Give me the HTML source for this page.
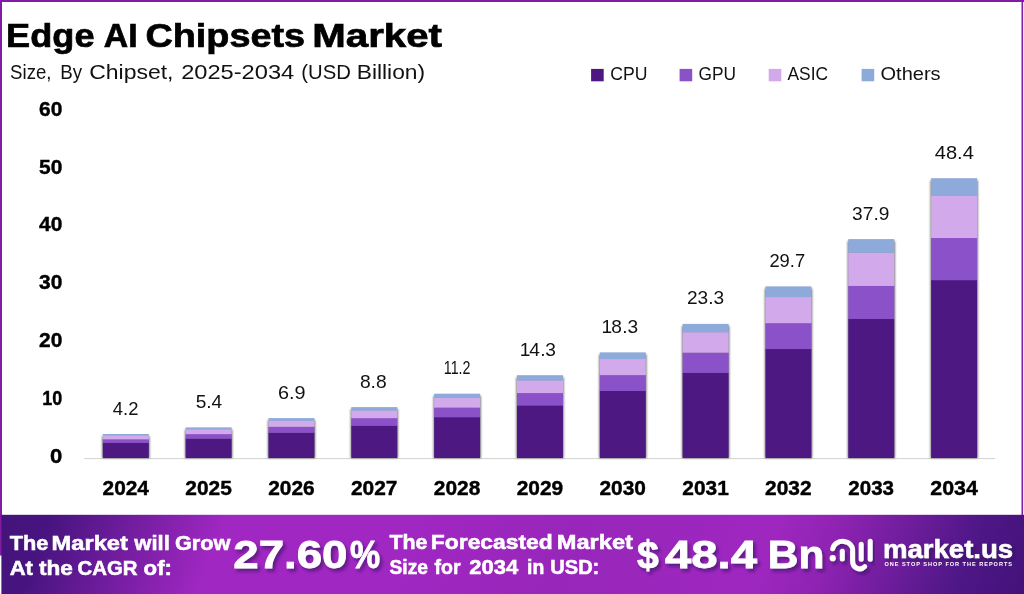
<!DOCTYPE html>
<html lang="en">
<head>
<meta charset="utf-8">
<title>Edge AI Chipsets Market</title>
<style>
html,body{margin:0;padding:0;background:#fff;}
body{width:1024px;height:594px;overflow:hidden;position:relative;font-family:"Liberation Sans",Arial,sans-serif;}
svg{position:absolute;left:0;top:0;display:block;}
text{font-family:"Liberation Sans",Arial,sans-serif;}
.b{font-weight:700;}
</style>
</head>
<body>
<svg width="1024" height="594" viewBox="0 0 1024 594">
<defs>
<linearGradient id="bg" gradientUnits="userSpaceOnUse" x1="0" y1="0" x2="1056" y2="0" gradientTransform="matrix(1 0 -0.4 1 206 0)">
<stop offset="0" stop-color="#43137a"/>
<stop offset="0.05" stop-color="#47147f"/>
<stop offset="0.215" stop-color="#a027c2"/>
<stop offset="0.40" stop-color="#a027c2"/>
<stop offset="0.55" stop-color="#9826ba"/>
<stop offset="0.74" stop-color="#9e27c0"/>
<stop offset="0.80" stop-color="#8e23b2"/>
<stop offset="0.93" stop-color="#4f1787"/>
<stop offset="1" stop-color="#421278"/>
</linearGradient>
<filter id="sh" x="-20%" y="-20%" width="140%" height="150%">
<feGaussianBlur stdDeviation="1.0"/>
</filter>
<filter id="ts" x="-10%" y="-10%" width="120%" height="140%">
<feDropShadow dx="2.4" dy="3" stdDeviation="1.7" flood-color="#35095f" flood-opacity="0.6"/>
</filter>
</defs>
<rect x="0" y="0" width="1024" height="594" fill="#ffffff"/>
<!-- frame -->
<rect x="0" y="0" width="1024" height="2" fill="#831ca5"/>
<rect x="0" y="0" width="2" height="515" fill="#831ca5"/>
<rect x="1021.5" y="0" width="1.6" height="594" fill="#831ca5"/>

<text class="b" y="47.10" font-size="33.4" fill="#000" stroke="#000" stroke-width="0.7"><tspan x="6.13" textLength="88.38" lengthAdjust="spacingAndGlyphs">Edge</tspan> <tspan x="103.80" textLength="33.79" lengthAdjust="spacingAndGlyphs">AI</tspan> <tspan x="145.47" textLength="159.58" lengthAdjust="spacingAndGlyphs">Chipsets</tspan> <tspan x="312.29" textLength="129.75" lengthAdjust="spacingAndGlyphs">Market</tspan></text>
<text y="79.20" font-size="20.6" fill="#111"><tspan x="10.10" textLength="41.36" lengthAdjust="spacingAndGlyphs">Size,</tspan> <tspan x="60.19" textLength="21.87" lengthAdjust="spacingAndGlyphs">By</tspan> <tspan x="89.18" textLength="84.34" lengthAdjust="spacingAndGlyphs">Chipset,</tspan> <tspan x="181.15" textLength="113.07" lengthAdjust="spacingAndGlyphs">2025-2034</tspan> <tspan x="301.32" textLength="49.54" lengthAdjust="spacingAndGlyphs">(USD</tspan> <tspan x="356.69" textLength="68.46" lengthAdjust="spacingAndGlyphs">Billion)</tspan></text>
<rect x="591.1" y="68.9" width="12.6" height="12.4" fill="#4d1882"/>
<text x="610.30" y="79.70" font-size="18.2" textLength="37.20" lengthAdjust="spacingAndGlyphs" fill="#111">CPU</text>
<rect x="679.6" y="68.9" width="12.6" height="12.4" fill="#8b51c9"/>
<text x="698.50" y="79.70" font-size="18.2" textLength="37.48" lengthAdjust="spacingAndGlyphs" fill="#111">GPU</text>
<rect x="768.7" y="68.9" width="12.6" height="12.4" fill="#d2a9ea"/>
<text x="787.50" y="79.70" font-size="18.2" textLength="40.63" lengthAdjust="spacingAndGlyphs" fill="#111">ASIC</text>
<rect x="861.6" y="68.9" width="12.6" height="12.4" fill="#8eaadb"/>
<text x="880.50" y="79.70" font-size="18.2" textLength="60.10" lengthAdjust="spacingAndGlyphs" fill="#111">Others</text>
<text class="b" x="50.00" y="463.20" font-size="19.6" textLength="12.28" lengthAdjust="spacingAndGlyphs" fill="#000" stroke="#000" stroke-width="0.4">0</text>
<text class="b" x="42.28" y="405.27" font-size="19.6" textLength="20.02" lengthAdjust="spacingAndGlyphs" fill="#000" stroke="#000" stroke-width="0.4">10</text>
<text class="b" x="39.00" y="347.34" font-size="19.6" textLength="23.29" lengthAdjust="spacingAndGlyphs" fill="#000" stroke="#000" stroke-width="0.4">20</text>
<text class="b" x="39.00" y="289.41" font-size="19.6" textLength="23.29" lengthAdjust="spacingAndGlyphs" fill="#000" stroke="#000" stroke-width="0.4">30</text>
<text class="b" x="39.00" y="231.48" font-size="19.6" textLength="23.29" lengthAdjust="spacingAndGlyphs" fill="#000" stroke="#000" stroke-width="0.4">40</text>
<text class="b" x="39.00" y="173.55" font-size="19.6" textLength="23.29" lengthAdjust="spacingAndGlyphs" fill="#000" stroke="#000" stroke-width="0.4">50</text>
<text class="b" x="39.00" y="115.62" font-size="19.6" textLength="23.29" lengthAdjust="spacingAndGlyphs" fill="#000" stroke="#000" stroke-width="0.4">60</text>
<rect x="84.4" y="458" width="910.6" height="1.1" fill="#d6d6d6"/>
<rect x="102.20" y="436.00" width="47.30" height="22.10" fill="#000" opacity="0.55" filter="url(#sh)"/>
<rect x="102.80" y="442.63" width="46.00" height="15.37" fill="#4d1882"/>
<rect x="102.80" y="439.05" width="46.00" height="3.88" fill="#8b51c9"/>
<rect x="102.80" y="435.45" width="46.00" height="3.90" fill="#d2a9ea"/>
<rect x="102.80" y="434.00" width="46.00" height="1.75" fill="#8eaadb"/>
<text x="112.80" y="414.50" font-size="17.9" textLength="25.65" lengthAdjust="spacingAndGlyphs" fill="#111">4.2</text>
<text class="b" x="102.55" y="494.50" font-size="19.6" textLength="46.39" lengthAdjust="spacingAndGlyphs" fill="#000" stroke="#000" stroke-width="0.4">2024</text>
<rect x="185.03" y="429.40" width="47.30" height="28.70" fill="#000" opacity="0.55" filter="url(#sh)"/>
<rect x="185.63" y="438.43" width="46.00" height="19.57" fill="#4d1882"/>
<rect x="185.63" y="433.85" width="46.00" height="4.88" fill="#8b51c9"/>
<rect x="185.63" y="429.25" width="46.00" height="4.91" fill="#d2a9ea"/>
<rect x="185.63" y="427.40" width="46.00" height="2.15" fill="#8eaadb"/>
<text x="195.70" y="407.90" font-size="17.9" textLength="26.55" lengthAdjust="spacingAndGlyphs" fill="#111">5.4</text>
<text class="b" x="185.33" y="494.50" font-size="19.6" textLength="46.49" lengthAdjust="spacingAndGlyphs" fill="#000" stroke="#000" stroke-width="0.4">2025</text>
<rect x="267.86" y="420.10" width="47.30" height="38.00" fill="#000" opacity="0.55" filter="url(#sh)"/>
<rect x="268.46" y="432.51" width="46.00" height="25.49" fill="#4d1882"/>
<rect x="268.46" y="426.53" width="46.00" height="6.28" fill="#8b51c9"/>
<rect x="268.46" y="420.52" width="46.00" height="6.32" fill="#d2a9ea"/>
<rect x="268.46" y="418.10" width="46.00" height="2.72" fill="#8eaadb"/>
<text x="278.10" y="398.60" font-size="17.9" textLength="27.54" lengthAdjust="spacingAndGlyphs" fill="#111">6.9</text>
<text class="b" x="268.16" y="494.50" font-size="19.6" textLength="46.49" lengthAdjust="spacingAndGlyphs" fill="#000" stroke="#000" stroke-width="0.4">2026</text>
<rect x="350.69" y="409.10" width="47.30" height="49.00" fill="#000" opacity="0.55" filter="url(#sh)"/>
<rect x="351.29" y="425.52" width="46.00" height="32.48" fill="#4d1882"/>
<rect x="351.29" y="417.88" width="46.00" height="7.94" fill="#8b51c9"/>
<rect x="351.29" y="410.19" width="46.00" height="7.99" fill="#d2a9ea"/>
<rect x="351.29" y="407.10" width="46.00" height="3.39" fill="#8eaadb"/>
<text x="359.90" y="387.60" font-size="17.9" textLength="26.75" lengthAdjust="spacingAndGlyphs" fill="#111">8.8</text>
<text class="b" x="350.99" y="494.50" font-size="19.6" textLength="46.49" lengthAdjust="spacingAndGlyphs" fill="#000" stroke="#000" stroke-width="0.4">2027</text>
<rect x="433.52" y="395.70" width="47.30" height="62.40" fill="#000" opacity="0.55" filter="url(#sh)"/>
<rect x="434.12" y="417.00" width="46.00" height="41.00" fill="#4d1882"/>
<rect x="434.12" y="407.33" width="46.00" height="9.96" fill="#8b51c9"/>
<rect x="434.12" y="397.60" width="46.00" height="10.03" fill="#d2a9ea"/>
<rect x="434.12" y="393.70" width="46.00" height="4.20" fill="#8eaadb"/>
<text x="443.80" y="374.20" font-size="17.9" textLength="26.66" lengthAdjust="spacingAndGlyphs" fill="#111">11.2</text>
<text class="b" x="433.82" y="494.50" font-size="19.6" textLength="46.49" lengthAdjust="spacingAndGlyphs" fill="#000" stroke="#000" stroke-width="0.4">2028</text>
<rect x="516.35" y="377.20" width="47.30" height="80.90" fill="#000" opacity="0.55" filter="url(#sh)"/>
<rect x="516.95" y="405.23" width="46.00" height="52.77" fill="#4d1882"/>
<rect x="516.95" y="392.77" width="46.00" height="12.76" fill="#8b51c9"/>
<rect x="516.95" y="380.23" width="46.00" height="12.84" fill="#d2a9ea"/>
<rect x="516.95" y="375.20" width="46.00" height="5.33" fill="#8eaadb"/>
<text transform="scale(1.07 1)" x="485.86 494.53 504.93 509.63" y="355.70" font-size="17.9" fill="#111">14.3</text>
<text class="b" x="516.65" y="494.50" font-size="19.6" textLength="46.49" lengthAdjust="spacingAndGlyphs" fill="#000" stroke="#000" stroke-width="0.4">2029</text>
<rect x="599.18" y="354.40" width="47.30" height="103.70" fill="#000" opacity="0.55" filter="url(#sh)"/>
<rect x="599.78" y="390.73" width="46.00" height="67.27" fill="#4d1882"/>
<rect x="599.78" y="374.83" width="46.00" height="16.20" fill="#8b51c9"/>
<rect x="599.78" y="358.82" width="46.00" height="16.31" fill="#d2a9ea"/>
<rect x="599.78" y="352.40" width="46.00" height="6.72" fill="#8eaadb"/>
<text transform="scale(1.07 1)" x="562.16 571.17 581.61 586.40" y="332.90" font-size="17.9" fill="#111">18.3</text>
<text class="b" x="599.48" y="494.50" font-size="19.6" textLength="46.49" lengthAdjust="spacingAndGlyphs" fill="#000" stroke="#000" stroke-width="0.4">2030</text>
<rect x="682.01" y="325.90" width="47.30" height="132.20" fill="#000" opacity="0.55" filter="url(#sh)"/>
<rect x="682.61" y="372.60" width="46.00" height="85.40" fill="#4d1882"/>
<rect x="682.61" y="352.40" width="46.00" height="20.50" fill="#8b51c9"/>
<rect x="682.61" y="332.06" width="46.00" height="20.64" fill="#d2a9ea"/>
<rect x="682.61" y="323.90" width="46.00" height="8.46" fill="#8eaadb"/>
<text x="687.00" y="304.40" font-size="17.9" textLength="37.15" lengthAdjust="spacingAndGlyphs" fill="#111">23.3</text>
<text class="b" x="682.31" y="494.50" font-size="19.6" textLength="46.49" lengthAdjust="spacingAndGlyphs" fill="#000" stroke="#000" stroke-width="0.4">2031</text>
<rect x="764.84" y="288.40" width="47.30" height="169.70" fill="#000" opacity="0.55" filter="url(#sh)"/>
<rect x="765.44" y="348.75" width="46.00" height="109.25" fill="#4d1882"/>
<rect x="765.44" y="322.89" width="46.00" height="26.17" fill="#8b51c9"/>
<rect x="765.44" y="296.85" width="46.00" height="26.34" fill="#d2a9ea"/>
<rect x="765.44" y="286.40" width="46.00" height="10.75" fill="#8eaadb"/>
<text x="769.40" y="266.90" font-size="17.9" textLength="35.75" lengthAdjust="spacingAndGlyphs" fill="#111">29.7</text>
<text class="b" x="765.14" y="494.50" font-size="19.6" textLength="46.49" lengthAdjust="spacingAndGlyphs" fill="#000" stroke="#000" stroke-width="0.4">2032</text>
<rect x="847.67" y="241.10" width="47.30" height="217.00" fill="#000" opacity="0.55" filter="url(#sh)"/>
<rect x="848.27" y="318.67" width="46.00" height="139.33" fill="#4d1882"/>
<rect x="848.27" y="285.66" width="46.00" height="33.31" fill="#8b51c9"/>
<rect x="848.27" y="252.43" width="46.00" height="33.53" fill="#d2a9ea"/>
<rect x="848.27" y="239.10" width="46.00" height="13.63" fill="#8eaadb"/>
<text x="852.10" y="219.60" font-size="17.9" textLength="37.25" lengthAdjust="spacingAndGlyphs" fill="#111">37.9</text>
<text class="b" x="848.37" y="494.50" font-size="19.6" textLength="45.69" lengthAdjust="spacingAndGlyphs" fill="#000" stroke="#000" stroke-width="0.4">2033</text>
<rect x="930.50" y="180.20" width="47.30" height="277.90" fill="#000" opacity="0.55" filter="url(#sh)"/>
<rect x="931.10" y="279.94" width="46.00" height="178.06" fill="#4d1882"/>
<rect x="931.10" y="237.73" width="46.00" height="42.50" fill="#8b51c9"/>
<rect x="931.10" y="195.25" width="46.00" height="42.78" fill="#d2a9ea"/>
<rect x="931.10" y="178.20" width="46.00" height="17.35" fill="#8eaadb"/>
<text x="934.80" y="158.70" font-size="17.9" textLength="39.04" lengthAdjust="spacingAndGlyphs" fill="#111">48.4</text>
<text class="b" x="930.25" y="494.50" font-size="19.6" textLength="47.59" lengthAdjust="spacingAndGlyphs" fill="#000" stroke="#000" stroke-width="0.4">2034</text>
<rect x="0" y="514.8" width="1024" height="79.2" fill="url(#bg)"/>
<rect x="0" y="514.8" width="1.4" height="40.7" fill="#831ca5"/>
<rect x="0" y="555.5" width="1.4" height="38.5" fill="#ffffff"/>
<text class="b" y="550.10" font-size="20.6" fill="#fff" stroke="#fff" stroke-width="0.55"><tspan x="9.70" textLength="38.58" lengthAdjust="spacingAndGlyphs">The</tspan> <tspan x="51.55" textLength="76.29" lengthAdjust="spacingAndGlyphs">Market</tspan> <tspan x="134.37" textLength="35.40" lengthAdjust="spacingAndGlyphs">will</tspan> <tspan x="174.90" textLength="55.56" lengthAdjust="spacingAndGlyphs">Grow</tspan></text>
<text class="b" y="575.00" font-size="20.6" fill="#fff" stroke="#fff" stroke-width="0.55"><tspan x="9.70" textLength="23.25" lengthAdjust="spacingAndGlyphs">At</tspan> <tspan x="39.00" textLength="33.90" lengthAdjust="spacingAndGlyphs">the</tspan> <tspan x="77.60" textLength="59.97" lengthAdjust="spacingAndGlyphs">CAGR</tspan> <tspan x="143.60" textLength="28.41" lengthAdjust="spacingAndGlyphs">of:</tspan></text>
<text class="b" y="549.20" font-size="20.6" fill="#fff" stroke="#fff" stroke-width="0.55"><tspan x="389.50" textLength="37.97" lengthAdjust="spacingAndGlyphs">The</tspan> <tspan x="430.89" textLength="121.75" lengthAdjust="spacingAndGlyphs">Forecasted</tspan> <tspan x="556.86" textLength="75.98" lengthAdjust="spacingAndGlyphs">Market</tspan></text>
<text class="b" y="574.30" font-size="20.6" fill="#fff" stroke="#fff" stroke-width="0.55"><tspan x="389.50" textLength="38.42" lengthAdjust="spacingAndGlyphs">Size</tspan> <tspan x="434.50" textLength="26.01" lengthAdjust="spacingAndGlyphs">for</tspan> <tspan x="469.25" textLength="48.92" lengthAdjust="spacingAndGlyphs">2034</tspan> <tspan x="527.06" textLength="17.24" lengthAdjust="spacingAndGlyphs">in</tspan> <tspan x="550.28" textLength="49.03" lengthAdjust="spacingAndGlyphs">USD:</tspan></text>
<g filter="url(#ts)">
<text class="b" y="568.00" font-size="39.6" fill="#fff" stroke="#fff" stroke-width="0.8"><tspan x="233.35" textLength="114.12" lengthAdjust="spacingAndGlyphs">27.60</tspan><tspan x="350.00" textLength="30.16" lengthAdjust="spacingAndGlyphs">%</tspan></text>
<text class="b" y="568.00" font-size="39.6" fill="#fff" stroke="#fff" stroke-width="0.8"><tspan x="637.00" textLength="21.76" lengthAdjust="spacingAndGlyphs">$</tspan><tspan x="665.00" textLength="92.01" lengthAdjust="spacingAndGlyphs">48.4</tspan> <tspan x="767.86" textLength="56.47" lengthAdjust="spacingAndGlyphs">Bn</tspan></text>
</g>
<g filter="url(#ts)">
<text class="b" x="882.90" y="557.90" font-size="25" textLength="130.30" lengthAdjust="spacingAndGlyphs" fill="#fff" stroke="#fff" stroke-width="0.5">market.us</text>
</g>
<text class="b" x="884.4" y="566.1" font-size="5.6" textLength="127.6" lengthAdjust="spacing" fill="#fff">ONE STOP SHOP FOR THE REPORTS</text>
<g filter="url(#ts)" fill="none" stroke="#fff" stroke-width="5" stroke-linecap="round">
<path d="M832.7 548.8 A10 8.6 0 0 1 852.6 551.2 V561 A7.1 7.6 0 0 0 864.7 566.6"/>
<path d="M842.3 551.2 V559"/>
<path d="M861.2 544.3 V559.3"/>
<path d="M870.2 541.3 V559.3"/>
<circle cx="832.7" cy="558.2" r="3.1" fill="#fff" stroke="none"/>
</g>
</svg>
</body>
</html>
